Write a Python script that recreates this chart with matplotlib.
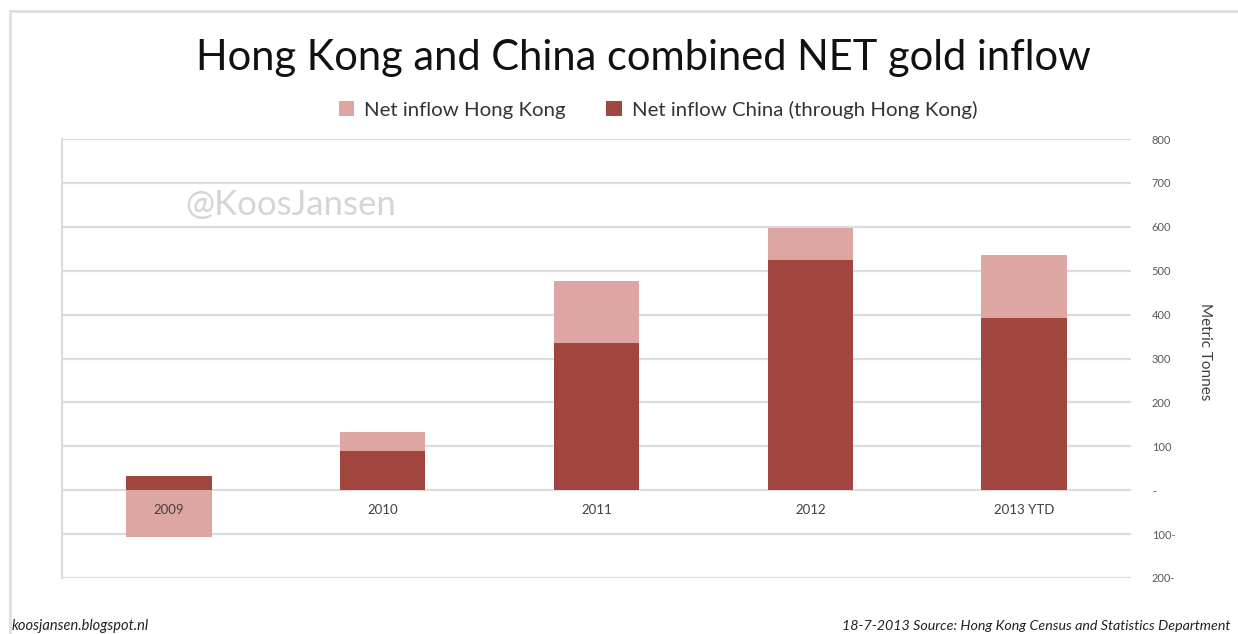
import matplotlib
matplotlib.use("Agg")
import matplotlib.pyplot as plt
from matplotlib.patches import Patch
from matplotlib.lines import Line2D
import numpy as np

# Net gold inflow, metric tonnes
years = ["2009", "2010", "2011", "2012", "2013 YTD"]
china_net = [32, 89, 335, 525, 392]
hongkong_net = [-107, 43, 141, 72, 143]

y_ticks = [-200, -100, 0, 100, 200, 300, 400, 500, 600, 700, 800]
y_tick_labels = ["200-", "100-", "-", "100", "200", "300", "400", "500", "600", "700", "800"]

PINK = "#DDA6A2"
DARK = "#A1463F"
GRID = "#DCDCDC"
TXT = "#404040"

plt.rcParams["font.family"] = ["Lato", "DejaVu Sans"]

fig = plt.figure(figsize=(12.38, 6.34), dpi=100)
W, H = 1238, 634
ax = fig.add_axes([62 / W, 1 - 578 / H, (1131 - 62) / W, (578 - 139) / H])

x = np.arange(len(years))
china = np.array(china_net)
hk = np.array(hongkong_net)
# Positive HK inflow stacks on top of China; negative goes below zero
hk_bottom = np.where(hk >= 0, china, 0)

bw = 0.40
ax.bar(x, china, width=bw, color=DARK, zorder=3)
ax.bar(x, hk, bottom=hk_bottom, width=bw, color=PINK, zorder=3)

ax.set_xlim(-0.5, len(years) - 0.5)
ax.set_ylim(-200, 800)
ax.set_yticks(y_ticks)
ax.set_yticklabels(y_tick_labels)
ax.yaxis.tick_right()
ax.tick_params(axis="y", length=0, pad=15, labelsize=8, labelcolor="#595959")
for lbl in ax.get_yticklabels():
    lbl.set_horizontalalignment("left")
ax.set_xticks([])
ax.yaxis.grid(True, color=GRID, linewidth=1.6, zorder=0)
for s in ["top", "right", "bottom"]:
    ax.spines[s].set_visible(False)
ax.spines["left"].set_color(GRID)
ax.spines["left"].set_linewidth(1.6)

# Category labels sit just below the zero line
for xi, name in zip(x, years):
    ax.text(xi, -45, name, ha="center", va="center", fontsize=9.5,
            color=TXT, zorder=4)

fig.text(1205 / W, 1 - 352 / H, "Metric Tonnes", rotation=-90, ha="center",
         va="center", fontsize=11, color=TXT)

fig.text(643 / W, 1 - 58 / H, "Hong Kong and China combined NET gold inflow",
         ha="center", va="center", fontsize=30, color="#111111")

handles = [Patch(facecolor=PINK, edgecolor="none"),
           Patch(facecolor=DARK, edgecolor="none")]
fig.legend(handles, ["Net inflow Hong Kong", "Net inflow China (through Hong Kong)"],
           loc="center", bbox_to_anchor=(658 / W, 1 - 110 / H), ncol=2,
           frameon=False, fontsize=14.7, handlelength=0.75, handleheight=0.75,
           handletextpad=0.5, columnspacing=2.0, labelcolor="#333333")

fig.text(185 / W, 1 - 205 / H, "@KoosJansen", ha="left", va="center",
         fontsize=25, color="#D5D5D5")

fig.text(12 / W, 1 - 626 / H, "koosjansen.blogspot.nl", ha="left", va="center",
         fontsize=10.5, style="italic", color="#222222")
fig.text(1230 / W, 1 - 626 / H,
         "18-7-2013 Source: Hong Kong Census and Statistics Department",
         ha="right", va="center", fontsize=10.3, style="italic", color="#222222")

# Outer frame
fig.add_artist(Line2D([10 / W, 10 / W], [1 - 11 / H, 0], transform=fig.transFigure,
                      color="#E0E0E0", linewidth=2))
fig.add_artist(Line2D([10 / W, 1], [1 - 11 / H, 1 - 11 / H], transform=fig.transFigure,
                      color="#E0E0E0", linewidth=2))

fig.savefig("out.png", dpi=100, facecolor="white")
